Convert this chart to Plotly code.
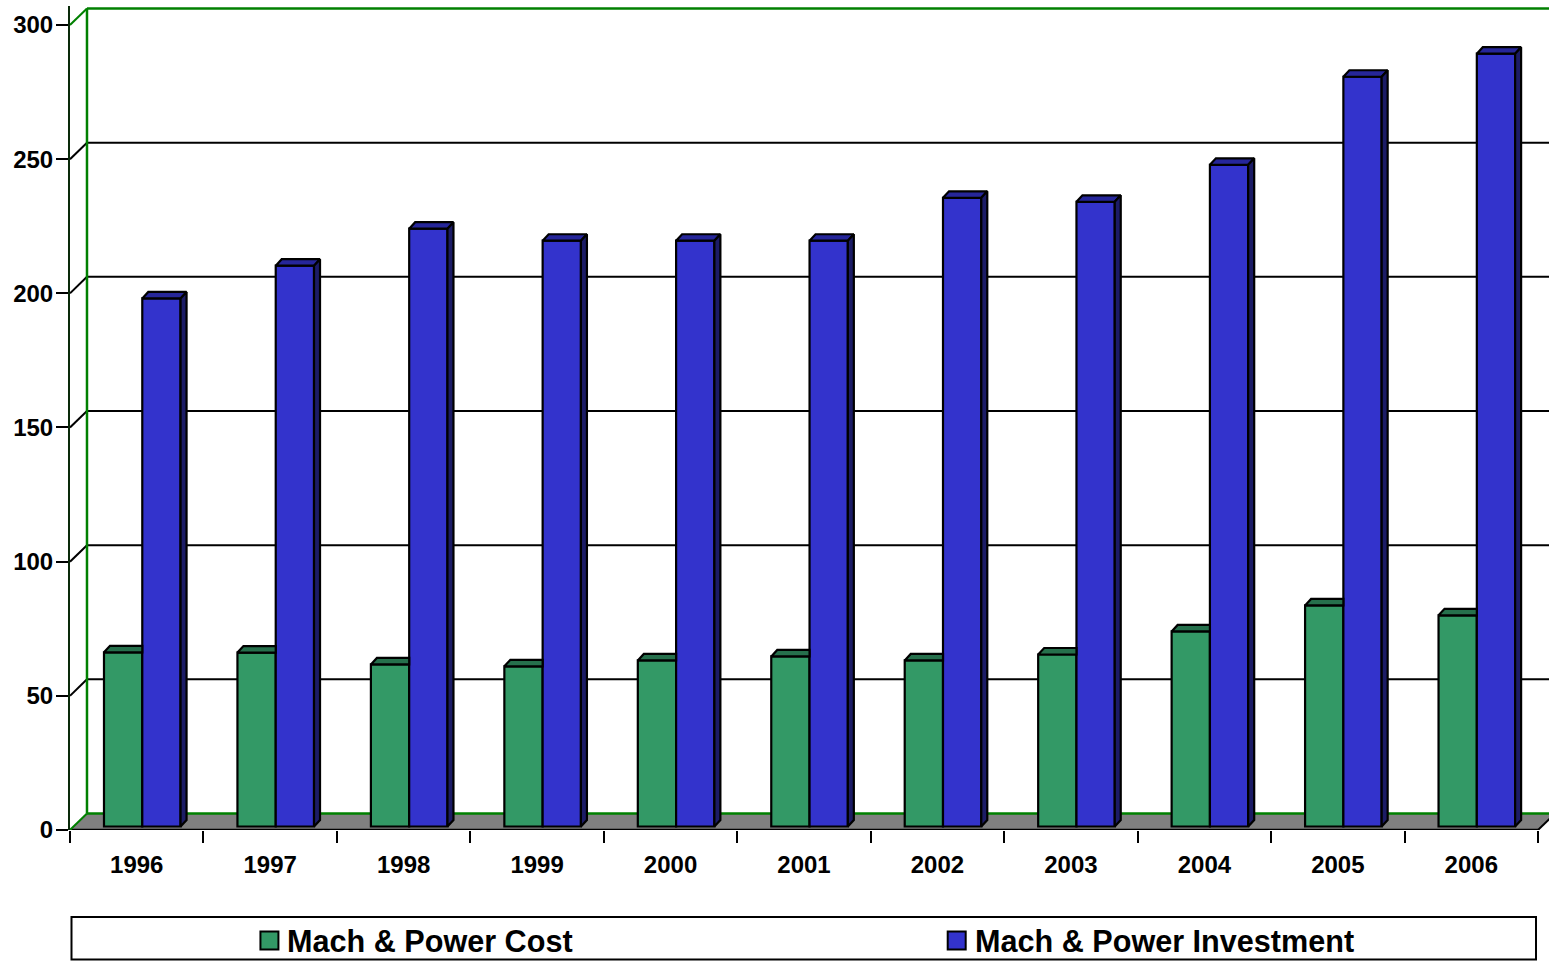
import plotly.graph_objects as go

years = ["1996", "1997", "1998", "1999", "2000", "2001", "2002", "2003", "2004", "2005", "2006"]
cost = [64.9, 64.8, 60.4, 59.7, 61.9, 63.4, 61.9, 64.1, 72.7, 82.4, 78.7]
investment = [196.8, 209.0, 222.8, 218.3, 218.3, 218.3, 234.3, 232.8, 246.6, 279.4, 288.0]
cost_name = "Mach & Power Cost"
inv_name = "Mach & Power Investment"
y_ticks = [0, 50, 100, 150, 200, 250, 300]

GREEN, GREEN_TOP = "#339966", "#26704c"
BLUE, BLUE_TOP, BLUE_SIDE = "#3333cc", "#26269a", "#1c1c66"
WALL = "#008000"

W, H = 1549, 961
L, T, B = 69.5, 6, 130.5
PX_X = 133.5
PX_Y = 2.685
plot_w, plot_h = W - L, H - T - B
x_max = plot_w / PX_X
y_max = plot_h / PX_Y

wall_dx, wall_dy = 17 / PX_X, 16.5 / PX_Y
bar_dx, bar_dy = 6 / PX_X, 6.5 / PX_Y
bar_w = 38.3 / PX_X
off_green, off_blue = 34 / PX_X, 72.3 / PX_X
base = 3.5 / PX_Y
n = len(years)
centers = [i + 0.5 for i in range(n)]


def px(xp):
    return (xp - L) / plot_w


def py(yp):
    return (H - B - yp) / plot_h


def seg(x0, y0, x1, y1, color="black", width=2):
    return dict(type="line", xref="x", yref="y", x0=x0, y0=y0, x1=x1, y1=y1,
                layer="below", line=dict(color=color, width=width))


shapes = [
    dict(type="path", xref="x", yref="y", layer="below", fillcolor="#808080", line=dict(width=0),
         path=f"M0,0 L{n},0 L{n + wall_dx},{wall_dy} L{wall_dx},{wall_dy} Z"),
    seg(wall_dx, wall_dy, x_max, wall_dy, WALL, 2.5),
    seg(0, 0, n, 0, "black", 2.5),
    seg(n, 0, n + wall_dx, wall_dy, "black", 2),
    seg(0, 0, wall_dx, wall_dy, WALL, 2),
]
for v in y_ticks[1:-1]:
    shapes.append(seg(wall_dx, v + wall_dy, x_max, v + wall_dy))
    shapes.append(seg(0, v, wall_dx, v + wall_dy))
top_y = y_ticks[-1] + wall_dy
shapes.append(seg(wall_dx, top_y, x_max, top_y, WALL, 2.5))
shapes.append(seg(0, y_ticks[-1], wall_dx, top_y, WALL, 2))
shapes.append(seg(wall_dx, wall_dy, wall_dx, top_y, WALL, 2.5))

# legend frame and swatches, in page pixels converted to paper fractions
shapes.append(dict(type="rect", xref="paper", yref="paper", x0=px(71), x1=px(1536), y0=py(960), y1=py(917.5),
                   line=dict(color="black", width=2), fillcolor="white"))
for x0, color in ((260, GREEN), (947.5, BLUE)):
    shapes.append(dict(type="rect", xref="paper", yref="paper", x0=px(x0), x1=px(x0 + 18), y0=py(950), y1=py(932),
                       line=dict(color="black", width=2), fillcolor=color))

fig = go.Figure()
LINE = dict(color="black", width=2.2)
fig.add_bar(x=centers, y=cost, base=[base] * n, width=bar_w, offset=off_green - 0.5, name=cost_name,
            marker=dict(color=GREEN, line=LINE), showlegend=False)
fig.add_bar(x=centers, y=investment, base=[base] * n, width=bar_w, offset=off_blue - 0.5, name=inv_name,
            marker=dict(color=BLUE, line=LINE), showlegend=False)


def polys(list_of_pts):
    xs, ys = [], []
    for pts in list_of_pts:
        xs += [p[0] for p in pts] + [pts[0][0], None]
        ys += [p[1] for p in pts] + [pts[0][1], None]
    return xs, ys


green_top, blue_top, blue_side = [], [], []
for i in range(n):
    g0, g1 = i + off_green, i + off_green + bar_w
    b0, b1 = i + off_blue, i + off_blue + bar_w
    gt, bt = cost[i] + base, investment[i] + base
    green_top.append([(g0, gt), (g0 + bar_dx, gt + bar_dy), (g1, gt + bar_dy), (g1, gt)])
    blue_top.append([(b0, bt), (b0 + bar_dx, bt + bar_dy), (b1 + bar_dx, bt + bar_dy), (b1, bt)])
    blue_side.append([(b1, bt), (b1 + bar_dx, bt + bar_dy), (b1 + bar_dx, base + bar_dy), (b1, base)])

for pts, color in ((green_top, GREEN_TOP), (blue_top, BLUE_TOP), (blue_side, BLUE_SIDE)):
    xs, ys = polys(pts)
    fig.add_scatter(x=xs, y=ys, mode="lines", fill="toself", fillcolor=color, line=LINE,
                    showlegend=False, hoverinfo="skip")

TICK_FONT = dict(family="Liberation Sans", size=24, color="black", weight="bold")
LEG_FONT = dict(family="Liberation Sans", size=30.6, color="black", weight="bold")
annotations = [
    dict(xref="paper", yref="paper", x=px(x0), y=py(942), text=t, showarrow=False,
         xanchor="left", yanchor="middle", font=LEG_FONT, xshift=-2)
    for x0, t in ((287, cost_name), (975, inv_name))
]

fig.update_layout(
    width=W, height=H, autosize=False, margin=dict(l=L, r=0, t=T, b=B, pad=0),
    paper_bgcolor="white", plot_bgcolor="white", barmode="overlay",
    shapes=shapes, annotations=annotations, showlegend=False,
    xaxis=dict(range=[0, x_max], tickmode="array", tickvals=centers, ticktext=years,
               ticks="outside", ticklen=13, tickcolor="rgba(0,0,0,0)", tickfont=TICK_FONT,
               showgrid=False, zeroline=False, showline=False,
               minor=dict(tickmode="array", tickvals=list(range(n + 1)), ticks="outside",
                          ticklen=12, tickwidth=2, tickcolor="black", showgrid=False)),
    yaxis=dict(range=[0, y_max], tickmode="array", tickvals=y_ticks,
               ticks="outside", ticklen=12, tickwidth=2, tickcolor="black", tickfont=TICK_FONT,
               ticklabelstandoff=-2,
               showgrid=False, zeroline=False, showline=True, linecolor="#0a2a0a", linewidth=2),
)

fig.write_html("out.html", config={"displayModeBar": False},
               post_script="document.body.style.margin='0';document.body.style.overflow='hidden';")
